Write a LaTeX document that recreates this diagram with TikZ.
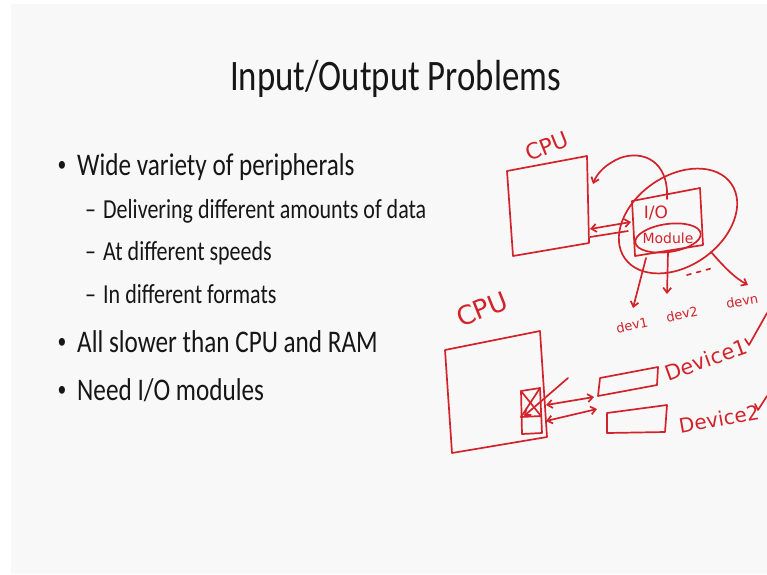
\documentclass[tikz,border=0pt]{standalone}
\usepackage{fontspec}
\setmainfont{Carlito}
\newfontfamily\slidefont[FakeStretch=0.8]{Carlito}
\newfontfamily\handfont{DejaVu Sans}
\usetikzlibrary{arrows.meta}
\definecolor{ink}{HTML}{161616}
\definecolor{pen}{HTML}{D2232A}
\definecolor{slidebg}{HTML}{F8F8F8}
\tikzset{
  ttl/.style={font=\slidefont\fontsize{43.5}{50}\selectfont, text=ink, anchor=base west, inner sep=0},
  lvlone/.style={font=\slidefont\fontsize{31.5}{36}\selectfont, text=ink, anchor=base west, inner sep=0},
  lvltwo/.style={font=\slidefont\fontsize{27.5}{32}\selectfont, text=ink, anchor=base west, inner sep=0},
  dot/.style={font=\slidefont\fontsize{22}{24}\selectfont, text=ink, anchor=center, inner sep=0},
  pencil/.style={draw=pen, line width=1.7pt, line cap=round, line join=round},
  barb/.tip={Straight Barb[length=5pt,width=8pt]},
  tipend/.style={-barb},
  tipboth/.style={barb-barb},
  hand/.style={text=pen, font=\handfont\fontsize{#1}{#1}\selectfont, inner sep=0},
}
\begin{document}
\begin{tikzpicture}[x=1pt,y=-1pt]
\useasboundingbox (0,0) rectangle (767,574);
\fill[white] (0,0) rectangle (767,574);
\fill[slidebg] (11,4) rectangle (767,574);

% ---------- slide text ----------
\node[ttl] (title) at (230,90) {Input/Output Problems};
\node[dot] (b1) at (62,166) {•};
\node[lvlone] (t1) at (77,175) {Wide variety of peripherals};
\node[lvltwo] (s1) at (85,218) {–};
\node[lvltwo] (u1) at (103,218) {Delivering different amounts of data};
\node[lvltwo] (s2) at (85,260) {–};
\node[lvltwo] (u2) at (103,260) {At different speeds};
\node[lvltwo] (s3) at (85,303) {–};
\node[lvltwo] (u3) at (103,303) {In different formats};
\node[dot] (b2) at (62,343) {•};
\node[lvlone] (t2) at (77,352) {All slower than CPU and RAM};
\node[dot] (b3) at (62,391) {•};
\node[lvlone] (t3) at (77,400) {Need I/O modules};

% ---------- top sketch ----------
\coordinate (ca1) at (507,171);
\coordinate (ca2) at (587,156);
\coordinate (ca3) at (589,243);
\coordinate (ca4) at (513,256);
\draw[pencil] (ca1) -- (ca2) -- (ca3) -- (ca4) -- cycle;
\node[hand=22, rotate=22] (cpuA) at (547,146) {CPU};

\coordinate (ia1) at (632,201);
\coordinate (ia2) at (700,188);
\coordinate (ia3) at (703,245);
\coordinate (ia4) at (635,256);
\draw[pencil] (ia1) -- (ia2) -- (ia3) -- (ia4) -- cycle;
\node[hand=17] (io) at (656,213) {I/O};
\node[hand=14] (mod) at (668,238) {Module};
\draw[pencil, rotate around={8:(mod)}] (mod) ellipse [x radius=33, y radius=14];

\coordinate (oc) at (678,221);
\draw[pencil, rotate around={35:(oc)}] (oc) ellipse [x radius=65, y radius=45];

\coordinate (da1) at (590,229);
\coordinate (da2) at (631,222);
\coordinate (db1) at (590,237);
\coordinate (db2) at (628,231);
\draw[pencil, tipboth] (da1) -- (da2);
\draw[pencil] (db1) -- (db2);

\coordinate (ls) at (667,199);
\coordinate (le) at (593,184);
\draw[pencil, tipend] (ls) .. controls (669,160) and (642,150) .. (620,158)
  .. controls (606,164) and (597,173) .. (le);

\coordinate (o1) at (646,258);
\coordinate (e1) at (633,308);
\coordinate (o2) at (668,252);
\coordinate (e2) at (667,294);
\coordinate (o3) at (711,252);
\coordinate (e3) at (748,285);
\draw[pencil, tipend] (o1) -- (e1);
\draw[pencil, tipend] (o2) -- (e2);
\draw[pencil, tipend] (o3) .. controls (725,268) and (735,278) .. (e3);
\coordinate (dd1) at (687,275);
\coordinate (dd2) at (713,268);
\draw[pencil, dash pattern=on 4pt off 6pt] (dd1) -- (dd2);
\node[hand=13, rotate=12] (dev1) at (632,325) {dev1};
\node[hand=13, rotate=12] (dev2) at (682,314) {dev2};
\node[hand=13, rotate=10] (devn) at (742,301) {devn};

% ---------- bottom sketch ----------
\coordinate (cb1) at (445,350);
\coordinate (cb2) at (540,331);
\coordinate (cb3) at (547,437);
\coordinate (cb4) at (452,453);
\draw[pencil] (cb1) -- (cb2) -- (cb3) -- (cb4) -- cycle;
\node[hand=26, rotate=22] (cpuB) at (482,309) {CPU};

\coordinate (sb1) at (521,391);
\coordinate (sb2) at (540,388);
\coordinate (sb3) at (542,433);
\coordinate (sb4) at (522,434);
\coordinate (sm1) at (521,417);
\coordinate (sm2) at (541,416);
\draw[pencil] (sb1) -- (sb2) -- (sb3) -- (sb4) -- cycle;
\draw[pencil] (sm1) -- (sm2);
\draw[pencil] (sb1) -- (sm2);
\draw[pencil] (sm1) -- (sb2);
\coordinate (ar0) at (568,378);
\coordinate (ar1) at (524,416);
\draw[pencil, tipend] (ar0) -- (ar1);

\coordinate (pa1) at (546,405);
\coordinate (pa2) at (594,397);
\coordinate (pb1) at (546,421);
\coordinate (pb2) at (597,409);
\draw[pencil, tipboth] (pa1) -- (pa2);
\draw[pencil, tipboth] (pb1) -- (pb2);

\coordinate (d1a) at (600,378);
\coordinate (d1b) at (658,367);
\coordinate (d1c) at (657,385);
\coordinate (d1d) at (598,396);
\draw[pencil] (d1a) -- (d1b) -- (d1c) -- (d1d) -- cycle;
\coordinate (d2a) at (607,413);
\coordinate (d2b) at (667,405);
\coordinate (d2c) at (665,432);
\coordinate (d2d) at (607,433);
\draw[pencil] (d2a) -- (d2b) -- (d2c) -- (d2d) -- cycle;

\node[hand=21, rotate=20] (devA) at (706,360) {Device1};
\node[hand=20, rotate=10] (devB) at (719,419) {Device2};
\coordinate (k1a) at (745,339);
\coordinate (k1b) at (749,345);
\coordinate (k1c) at (767,313);
\draw[pencil] (k1a) -- (k1b) -- (k1c);
\coordinate (k2a) at (755,404);
\coordinate (k2b) at (758,410);
\coordinate (k2c) at (767,396);
\draw[pencil] (k2a) -- (k2b) -- (k2c);
\end{tikzpicture}
\end{document}
